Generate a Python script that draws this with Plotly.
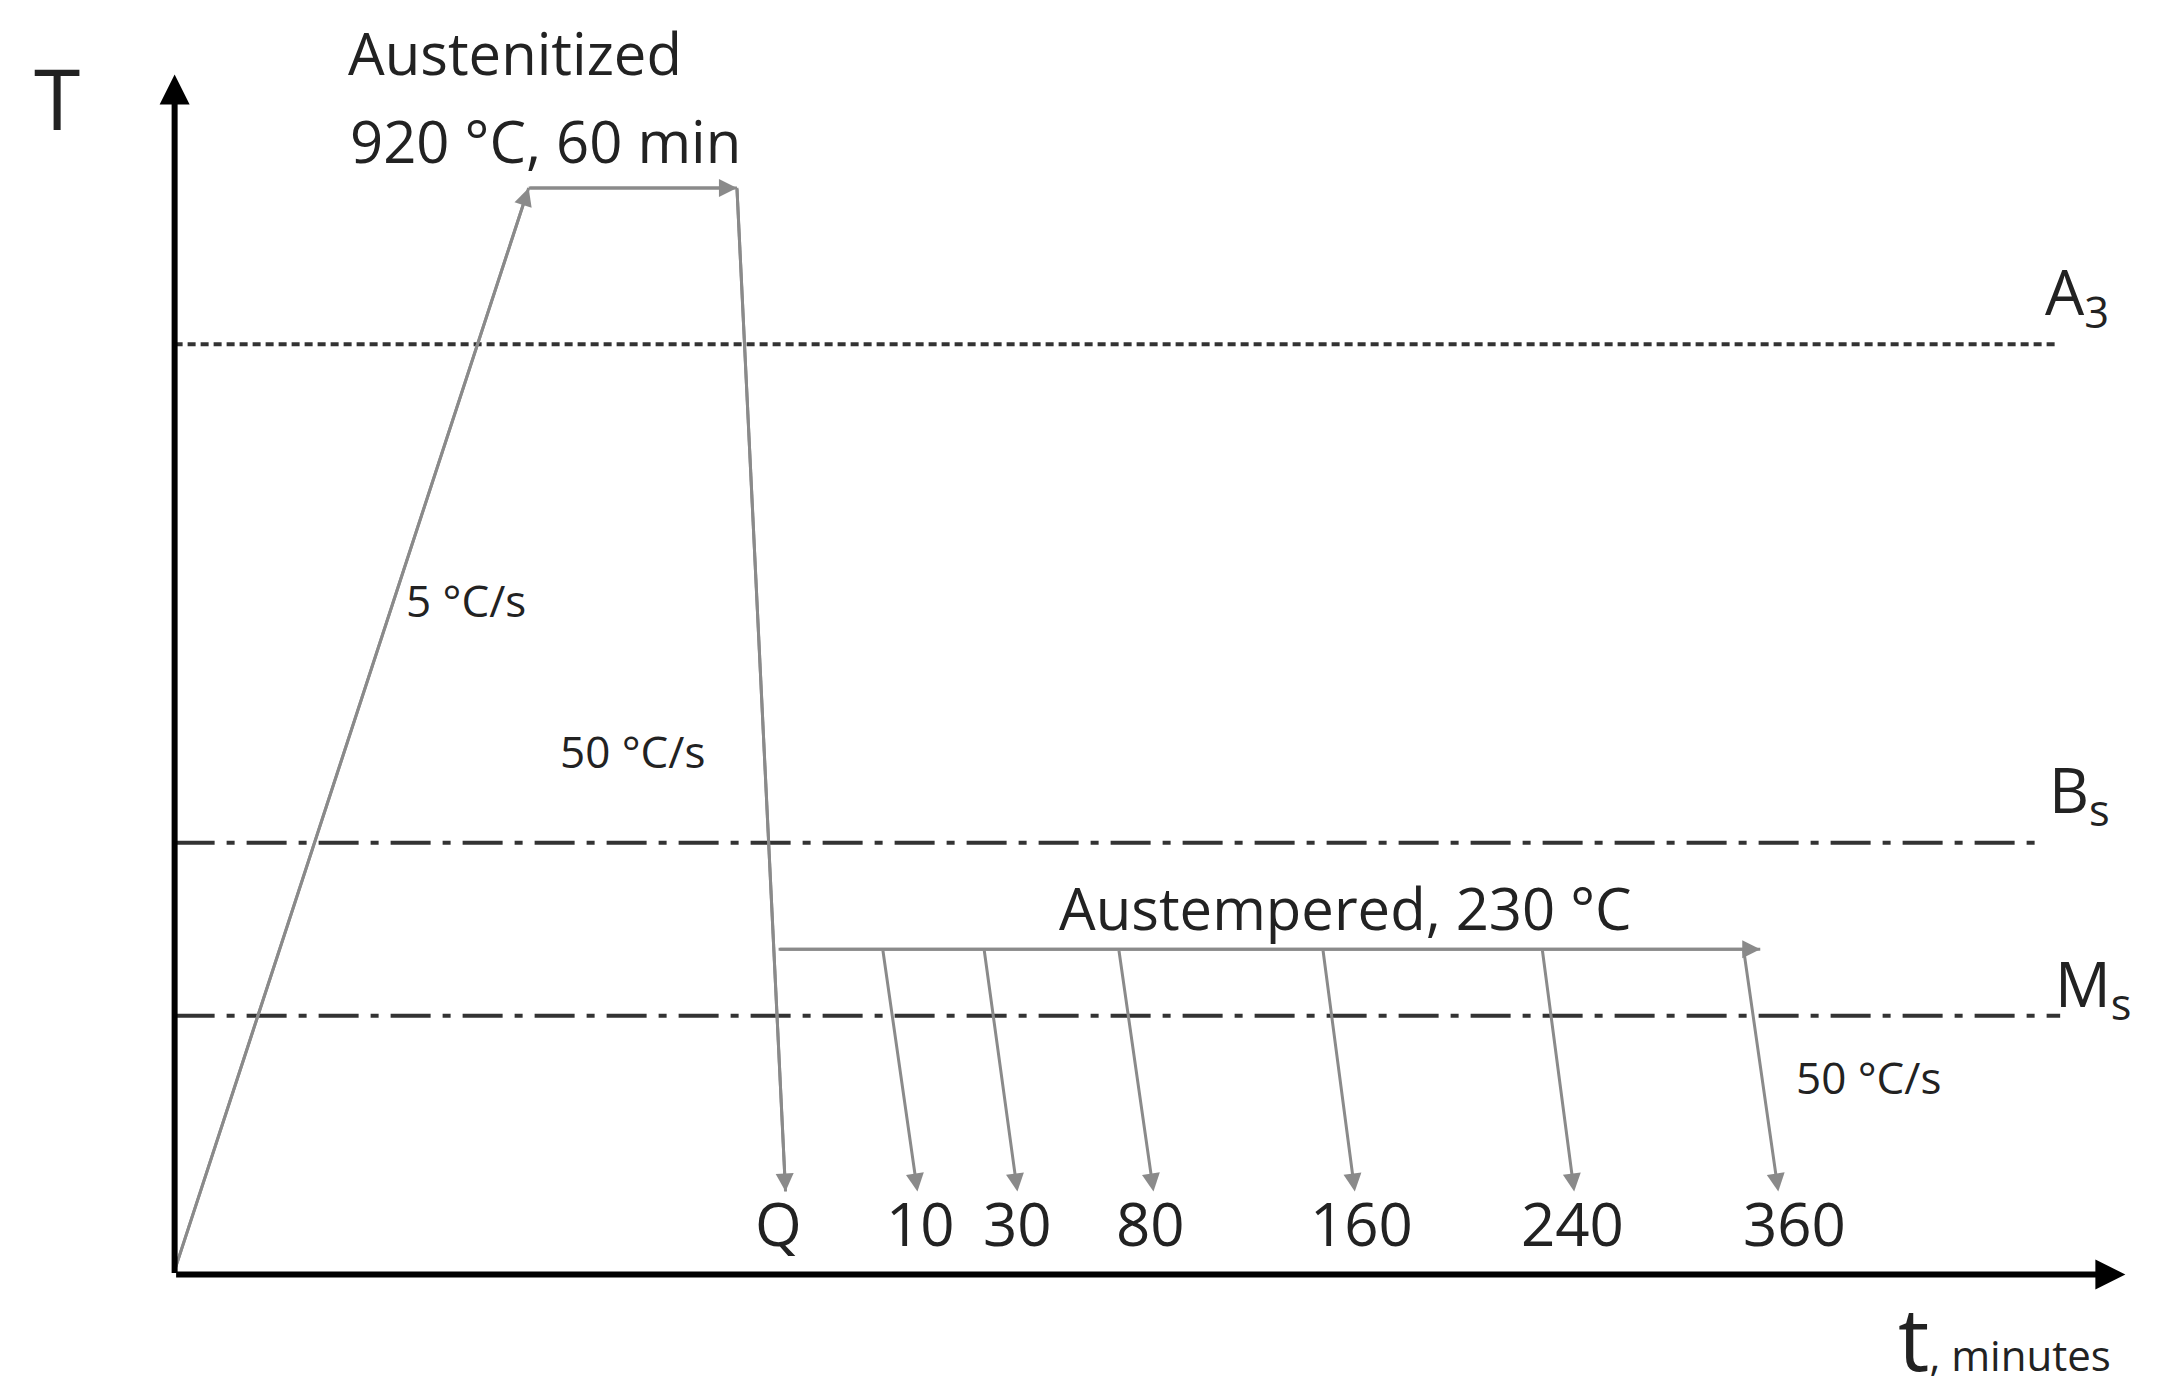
import plotly.graph_objects as go

# diagram units: x grows right, y grows downward (0..1560, 0..1010)
W, H = 1560, 1010
GRAY = "#8a8a8a"
FONT = "Open Sans"

# thermal path
heat_x = [120, 375]
heat_y = [912, 130]
hold_x = [375, 525]
hold_y = [130, 130]
quench_x = [525, 560]
quench_y = [130, 855]
austemper_x = [555, 1262]
austemper_y = [680, 680]

# quench-out lines after holding (start x, end x)
hold_labels = ["10", "30", "80", "160", "240", "360"]
hold_start = [630, 703, 800, 947, 1105, 1250]
hold_end = [655, 727, 825, 970, 1128, 1275]
label_x = [657, 727, 823, 975, 1127, 1287]

# critical temperature lines
crit_names = ["A<sub>3</sub>", "B<sub>s</sub>", "M<sub>s</sub>"]
crit_y = [243, 603, 728]
crit_end = [1475, 1465, 1478]
crit_dash = ["dash", "dashdot", "dashdot"]
crit_label_x = [1490, 1492, 1502]
crit_label_y = [207, 567, 707]

fig = go.Figure()

for y, xe, d in zip(crit_y, crit_end, crit_dash):
    fig.add_trace(go.Scatter(x=[120, xe], y=[y, y], mode="lines",
                             line=dict(color="#333333", width=4,
                                       dash="8px,5px" if d == "dash" else "40px,12px,8px,12px")))

for xs, ys in [(heat_x, heat_y), (hold_x, hold_y), (quench_x, quench_y), (austemper_x, austemper_y)]:
    fig.add_trace(go.Scatter(x=xs, y=ys, mode="lines", line=dict(color=GRAY, width=3)))

def arrow(x0, y0, x1, y1, color=GRAY, w=3, size=1.2):
    fig.add_annotation(x=x1, y=y1, ax=x0, ay=y0, xref="x", yref="y", axref="x", ayref="y",
                       showarrow=True, arrowhead=2, arrowsize=size, arrowwidth=w,
                       arrowcolor=color, text="")

arrow(heat_x[0], heat_y[0], heat_x[1], heat_y[1])
arrow(hold_x[0], hold_y[0], hold_x[1], hold_y[1])
arrow(quench_x[0], quench_y[0], quench_x[1], quench_y[1])
arrow(austemper_x[0], austemper_y[0], austemper_x[1], austemper_y[1])
for xs, xe in zip(hold_start, hold_end):
    arrow(xs, 680, xe, 855)

# axes
arrow(120, 915, 120, 48, color="black", w=6, size=1)
arrow(120, 915, 1525, 915, color="black", w=6, size=1)

def text(x, y, s, size, color="#222222"):
    fig.add_annotation(x=x, y=y, xref="x", yref="y", text=s, showarrow=False,
                       font=dict(family=FONT, size=size, color=color))

text(35, 65, "T", 84)
text(1438, 960, "t<span style='font-size:42px'>, minutes</span>", 88)
text(365, 32, "Austenitized", 58)
text(387, 96, "920 °C, 60 min", 58)
text(963, 650, "Austempered, 230 °C", 58)
text(330, 428, "5 °C/s", 44)
text(450, 537, "50 °C/s", 44)
text(1340, 772, "50 °C/s", 44)
text(555, 878, "Q", 60)
for lab, lx in zip(hold_labels, label_x):
    text(lx, 878, lab, 60)
for n, lx, ly in zip(crit_names, crit_label_x, crit_label_y):
    text(lx, ly, n, 62)

fig.update_layout(
    width=2166, height=1398, margin=dict(l=0, r=0, t=0, b=0),
    plot_bgcolor="white", paper_bgcolor="white", showlegend=False,
    xaxis=dict(range=[0, W], visible=False, fixedrange=True),
    yaxis=dict(range=[H, 0], visible=False, fixedrange=True),
)

fig.write_html("out.html")
